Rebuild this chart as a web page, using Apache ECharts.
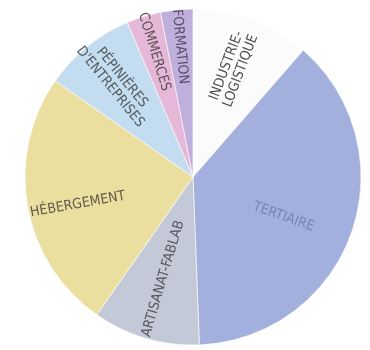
<!DOCTYPE html>
<html>
<head>
<meta charset="utf-8">
<script src="https://cdn.jsdelivr.net/npm/echarts@6/dist/echarts.min.js"></script>
<style>
  html, body { margin: 0; padding: 0; background: #fff; }
  #chart { width: 370px; height: 350px; }
</style>
</head>
<body>
<div id="chart"></div>
<script>
// parts of the programme, clockwise from 12 o'clock
const categories = ['INDUSTRIE-\nLOGISTIQUE', 'TERTIAIRE', 'ARTISANAT-FABLAB', 'HÉBERGEMENT', 'PÉPINIÈRES\nD\'ENTREPRISES', 'COMMERCES', 'FORMATION'];
const shares = [11.4, 38, 10.3, 25, 8.9, 3.3, 3.1];

const colors = ['#fbfbfb', '#a3b0de', '#c3c9d6', '#ebdfa0', '#c4dcef', '#e6b8d8', '#bfafdd'];
const labelColors = ['#505050', '#7684b6', '#555860', '#605a4a', '#535a62', '#5e505a', '#574f68'];
// distance of each label centre from the pie centre (px), and a small vertical nudge
const labelDist = [113, 93, 103, 114, 119, 129, 131];
const labelNudgeY = [0, 8, 0, 7, 0, 1, 3];

const R = 168;
const CX = 193, CY = 177;
const FONT = '"DejaVu Sans Condensed", "Liberation Sans Narrow", "Roboto", sans-serif';

let myChart = echarts.init(document.getElementById('chart'));

// the pie itself
let series = [{
  type: 'pie',
  center: [CX, CY],
  radius: R,
  startAngle: 90,
  clockwise: true,
  silent: true,
  itemStyle: { borderColor: '#ffffff', borderWidth: 0.6 },
  label: { show: false },
  labelLine: { show: false },
  data: categories.map((name, i) => ({ name: name, value: shares[i], itemStyle: { color: colors[i] } }))
}];

// one transparent ring per label so each label sits at its own distance
categories.forEach((cat, k) => {
  series.push({
    type: 'pie',
    center: [CX, CY + labelNudgeY[k]],
    radius: [2 * labelDist[k] - R, R],
    startAngle: 90,
    clockwise: true,
    silent: true,
    itemStyle: { color: 'rgba(0,0,0,0)' },
    labelLine: { show: false },
    label: {
      show: false,
      position: 'inside',
      rotate: 'radial',
      formatter: '{b}',
      fontFamily: FONT,
      fontSize: 14,
      lineHeight: 15,
      align: 'center'
    },
    data: categories.map((name, i) => ({
      name: name,
      value: shares[i],
      label: i === k ? { show: true, color: labelColors[i] } : { show: false }
    }))
  });
});

var option = {
  animation: false,
  series: series
};

myChart.setOption(option);
</script>
</body>
</html>
